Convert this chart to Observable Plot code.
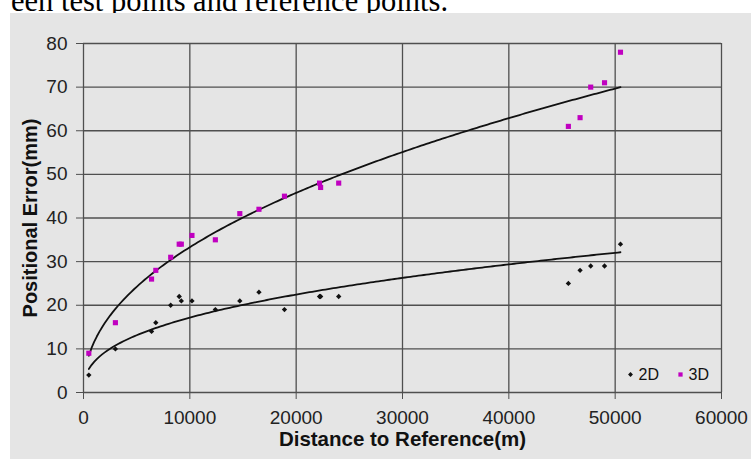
<!DOCTYPE html>
<html><head><meta charset="utf-8">
<script src="https://cdn.jsdelivr.net/npm/d3@7"></script>
<script src="https://cdn.jsdelivr.net/npm/@observablehq/plot@0.6"></script>
<style>
body{margin:0;background:#fff;width:751px;height:459px;overflow:hidden;}
#cap{height:13px;overflow:hidden;}
#cap svg{display:block;}
#chart{margin-left:10px;}
#chart svg{display:block;}
</style></head><body>
<div id="cap"><svg width="751" height="13"><text x="11" y="11" font-family="Liberation Serif, Times New Roman, serif" font-size="30.5" fill="#000">een test points and reference points.</text></svg></div>
<div id="chart"></div>
<script>
// Distance to reference (m) of each test point
const distances = [500, 3000, 6400, 6800, 8200, 9000, 9200, 10200, 12400, 14700, 16500, 18900, 22200, 22300, 24000, 45600, 46700, 47700, 49000, 50500];
// Positional error (mm)
const error2D = [4, 10, 14, 16, 20, 22, 21, 21, 19, 21, 23, 19, 22, 22, 22, 25, 28, 29, 29, 34];
const error3D = [9, 16, 26, 28, 31, 34, 34, 36, 35, 41, 42, 45, 48, 47, 48, 61, 63, 70, 71, 78];
const seriesNames = ["2D", "3D"];
const xTicks = [0, 10000, 20000, 30000, 40000, 50000, 60000];
const yTicks = [0, 10, 20, 30, 40, 50, 60, 70, 80];
const xTitle = "Distance to Reference(m)";
const yTitle = "Positional Error(mm)";

const pts2D = distances.map((d, i) => ({x: d, y: error2D[i]}));
const pts3D = distances.map((d, i) => ({x: d, y: error3D[i]}));

// Power-law trendline (least squares on log-log), as the spreadsheet does
function powerFit(pts) {
  const lx = pts.map(p => Math.log(p.x)), ly = pts.map(p => Math.log(p.y));
  const mx = d3.mean(lx), my = d3.mean(ly);
  const b = d3.sum(lx, (v, i) => (v - mx) * (ly[i] - my)) / d3.sum(lx, v => (v - mx) ** 2);
  const a = Math.exp(my - b * mx);
  const [x0, x1] = d3.extent(pts, p => p.x);
  return d3.range(0, 201).map(k => {
    const x = x0 + (x1 - x0) * k / 200;
    return {x, y: a * Math.pow(x, b)};
  });
}
const trend2D = powerFit(pts2D);
const trend3D = powerFit(pts3D);

const gridColor = "#4f4f4f";
const magenta = "#c000c0";

const chart = Plot.plot({
  width: 741,
  height: 446,
  marginLeft: 73,
  marginRight: 30,
  marginTop: 30,
  marginBottom: 67,
  style: {background: "#e5e5e5", fontFamily: "Liberation Sans, Arial, sans-serif", fontSize: "19px", color: "#222"},
  x: {domain: [0, 60000]},
  y: {domain: [0, 80]},
  marks: [
    Plot.ruleX(xTicks, {stroke: gridColor, strokeWidth: 1.3}),
    Plot.ruleY(yTicks, {stroke: gridColor, strokeWidth: 1.3}),
    Plot.axisX({ticks: xTicks, tickFormat: d => String(d), tickSize: 7, tickPadding: 11, label: null, stroke: gridColor}),
    Plot.axisY({ticks: yTicks, tickFormat: d => String(d), tickSize: 7, tickPadding: 9, label: null, stroke: gridColor}),
    Plot.line(trend3D, {x: "x", y: "y", stroke: "#111", strokeWidth: 1.8}),
    Plot.line(trend2D, {x: "x", y: "y", stroke: "#111", strokeWidth: 1.8}),
    Plot.dot(pts2D, {x: "x", y: "y", symbol: "diamond2", r: 2.4, fill: "#111", stroke: "none"}),
    Plot.dot(pts3D, {x: "x", y: "y", symbol: "square", r: 2.9, fill: magenta, stroke: "none"}),
    // legend
    Plot.dot([seriesNames[0]], {frameAnchor: "bottom-right", dx: -91, dy: -18, symbol: "diamond2", r: 2.2, fill: "#111", stroke: "none"}),
    Plot.text([seriesNames[0]], {text: d => d, frameAnchor: "bottom-right", dx: -83, dy: -18, textAnchor: "start", lineAnchor: "middle", fontSize: 16, fill: "#111"}),
    Plot.dot([seriesNames[1]], {frameAnchor: "bottom-right", dx: -41, dy: -18, symbol: "square", r: 2.4, fill: magenta, stroke: "none"}),
    Plot.text([seriesNames[1]], {text: d => d, frameAnchor: "bottom-right", dx: -33, dy: -18, textAnchor: "start", lineAnchor: "middle", fontSize: 16, fill: "#111"}),
    // axis titles
    Plot.text([xTitle], {text: d => d, frameAnchor: "bottom", textAnchor: "middle", lineAnchor: "middle", dy: 47, fontWeight: "bold", fontSize: 20.5, fill: "#111"}),
    Plot.text([yTitle], {text: d => d, frameAnchor: "left", textAnchor: "middle", lineAnchor: "middle", rotate: -90, dx: -53, fontWeight: "bold", fontSize: 20, fill: "#111"})
  ]
});
document.getElementById("chart").appendChild(chart);
</script>
</body></html>
